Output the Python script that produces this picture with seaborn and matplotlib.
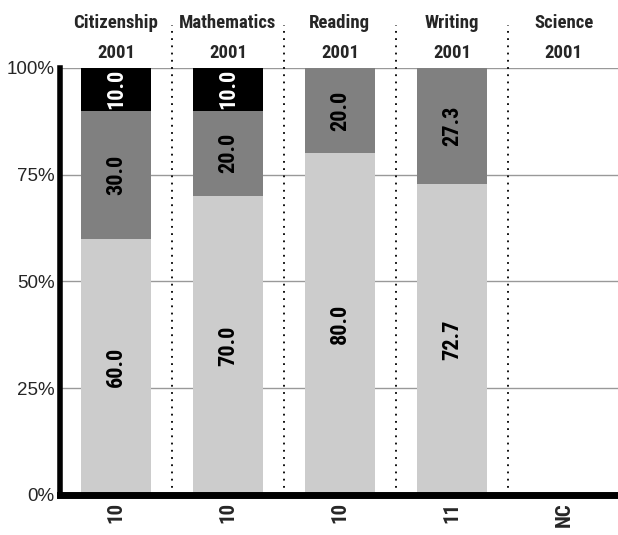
import numpy as np
import pandas as pd
import matplotlib
matplotlib.use("Agg")
import matplotlib.pyplot as plt
import seaborn as sns
from matplotlib.ticker import FuncFormatter
import matplotlib.transforms as mtransforms

subjects = ["Citizenship", "Mathematics", "Reading", "Writing", "Science"]
years = ["2001", "2001", "2001", "2001", "2001"]
counts = ["10", "10", "10", "11", "NC"]
low = [60.0, 70.0, 80.0, 72.7, np.nan]
mid = [30.0, 20.0, 20.0, 27.3, np.nan]
top = [10.0, 10.0, 0.0, 0.0, np.nan]

sns.set_theme(style="white")
narrow = ["Roboto Condensed", "Archivo Narrow", "PT Sans Narrow", "Pragati Narrow",
          "Liberation Sans"]
plt.rcParams["font.family"] = narrow

df = pd.DataFrame({"subject": subjects, "low": low, "mid": mid, "top": top})
df["cum_mid"] = df["low"] + df["mid"]
df["cum_top"] = df["cum_mid"] + df["top"]

fig = plt.figure(figsize=(6.18, 5.35), dpi=100)
ax = fig.add_axes([0.097, 0.075, 0.906, 0.798])

# stacked bars: draw cumulative heights, tallest first
layers = [("cum_top", "#000000"), ("cum_mid", "#808080"), ("low", "#cccccc")]
for col, colour in layers:
    sns.barplot(data=df, x="subject", y=col, color=colour, width=0.62,
                saturation=1, linewidth=0, ax=ax, zorder=2)

# segment labels
segs = [("low", "black"), ("mid", "black"), ("top", "white")]
base = {"low": 0, "mid": df["low"], "top": df["cum_mid"]}
for col, tc in segs:
    for i, v in enumerate(df[col]):
        if np.isnan(v) or v == 0:
            continue
        b = base[col] if np.isscalar(base[col]) else base[col][i]
        ax.text(i, b + v / 2, f"{v:.1f}", rotation=90, ha="center", va="center",
                color=tc, fontsize=16, fontweight="bold", zorder=4)

ax.set_ylim(0, 100)
ax.set_xlim(-0.5, 4.5)
ax.set_yticks([0, 25, 50, 75, 100])
ax.yaxis.set_major_formatter(FuncFormatter(lambda v, p: f"{v:.0f}%"))
for lab in ax.get_yticklabels():
    lab.set_fontfamily("Liberation Sans")
    lab.set_fontsize(13.5)
ax.tick_params(axis="y", length=0, pad=4)
ax.yaxis.grid(True, color="#999999", linewidth=1, zorder=0)
ax.set_axisbelow(True)

ax.set_xticks(range(5))
ax.set_xticklabels(counts, rotation=90, fontsize=15, fontweight="bold")
ax.tick_params(axis="x", length=0, pad=5)
ax.set_xlabel("")
ax.set_ylabel("")

for s in ["top", "right"]:
    ax.spines[s].set_visible(False)
ax.spines["left"].set_linewidth(4)
ax.spines["left"].set_color("black")
ax.spines["bottom"].set_linewidth(5)
ax.spines["bottom"].set_color("black")

# dotted panel separators running up into header
for xv in [0.5, 1.5, 2.5, 3.5]:
    ax.axvline(xv, ymin=0, ymax=1.1, color="black", linestyle=(0, (1, 3)),
               linewidth=1.3, clip_on=False, zorder=1)

trans = mtransforms.blended_transform_factory(ax.transData, ax.transAxes)
for i, (s, y) in enumerate(zip(subjects, years)):
    ax.text(i, 1.105, s, transform=trans, ha="center", va="center",
            fontsize=13.5, fontweight="bold")
    ax.text(i, 1.035, y, transform=trans, ha="center", va="center",
            fontsize=13.5, fontweight="bold")

fig.savefig("out.png", dpi=100)
